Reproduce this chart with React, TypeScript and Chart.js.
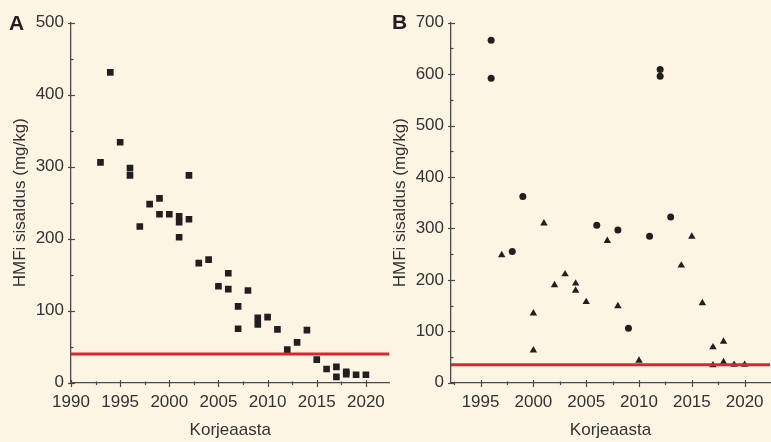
import React, { useEffect, useRef } from 'react';
import { Chart, registerables } from 'chart.js';

Chart.register(...registerables);

// ---------------- data ----------------
const yearsA = [1993, 1994, 1995, 1996, 1996, 1997, 1998, 1999, 1999, 2000, 2001, 2001, 2001, 2002, 2002, 2003, 2004, 2005, 2006, 2006, 2007, 2007, 2008, 2009, 2009, 2010, 2011, 2012, 2013, 2014, 2015, 2016, 2017, 2017, 2018, 2018, 2019, 2020];
const valuesA = [306, 431, 334, 298, 288, 217, 248, 256, 234, 234, 231, 223, 202, 288, 227, 166, 171, 134, 152, 130, 106, 75, 128, 90, 81, 91, 74, 46, 56, 73, 32, 19, 22, 8, 15, 12, 11, 11];

const circleYearsB = [1996, 1996, 1998, 1999, 2006, 2008, 2009, 2011, 2012, 2012, 2013];
const circleValuesB = [666, 592, 255, 362, 306, 297, 106, 285, 609, 596, 322];

const triangleYearsB = [1997, 2000, 2000, 2001, 2002, 2003, 2004, 2004, 2005, 2007, 2008, 2010, 2014, 2015, 2016, 2017, 2017, 2018, 2018, 2019, 2020];
const triangleValuesB = [248, 135, 63, 310, 190, 211, 193, 179, 157, 276, 149, 43, 228, 284, 155, 69, 34, 80, 40, 35, 35];

const limitA = 40;
const limitB = 35;

const xTicksA = [1990, 1995, 2000, 2005, 2010, 2015, 2020];
const xTicksB = [1995, 2000, 2005, 2010, 2015, 2020];
const yTicksA = [0, 100, 200, 300, 400, 500];
const yTicksB = [0, 100, 200, 300, 400, 500, 600, 700];

const xTitle = 'Korjeaasta';
const yTitle = 'HMFi sisaldus (mg/kg)';

// ---------------- styles ----------------
const FONT = "'Liberation Sans', Arial, sans-serif";
const BG = '#FDF5E4';
const TEXT = '#333333';
const AXIS = '#4a4a4a';
const MARK = '#231f20';
const RED = '#D7282F';

const tickPlugin = {
  id: 'customTicks',
  afterDraw(chart: any, _args: any, opts: any) {
    const ctx = chart.ctx;
    const xs = chart.scales.x;
    const ys = chart.scales.y;
    const area = chart.chartArea;
    ctx.save();
    ctx.strokeStyle = AXIS;
    ctx.lineWidth = 1.2;
    const line = (x1: number, y1: number, x2: number, y2: number) => {
      ctx.beginPath();
      ctx.moveTo(x1, y1);
      ctx.lineTo(x2, y2);
      ctx.stroke();
    };
    const b = Math.round(area.bottom) + 0.5;
    const l = Math.round(area.left) + 0.5;
    const start = Math.ceil(opts.xMin / 2.5) * 2.5;
    for (let v = start; v <= opts.xMax + 1e-6; v += 2.5) {
      const px = Math.round(xs.getPixelForValue(v)) + 0.5;
      const major = Math.abs(v % 5) < 1e-6;
      if (major) line(px, b - 3.5, px, b + 3.5);
      else line(px, b - 2, px, b + 1.5);
    }
    for (let v = 0; v <= opts.yMax + 1e-6; v += 50) {
      const py = Math.round(ys.getPixelForValue(v)) + 0.5;
      const major = v % 100 === 0;
      if (major) line(l - 3.5, py, l + 3.5, py);
      else line(l - 1.5, py, l + 2, py);
    }
    // panel letter
    ctx.fillStyle = MARK;
    ctx.font = `bold 21px ${FONT}`;
    ctx.textBaseline = 'alphabetic';
    ctx.textAlign = 'left';
    ctx.fillText(opts.letter, opts.letterX, opts.letterY);
    ctx.restore();
  },
};

function makeConfig(opts: {
  datasets: any[];
  xMin: number;
  xMax: number;
  yMax: number;
  xTicks: number[];
  yTicks: number[];
  yWidth: number;
  rightPad: number;
  yTitlePad: number;
  letter: string;
  letterX: number;
  letterY: number;
}): any {
  const tickFont = { family: FONT, size: 17 };
  return {
    type: 'scatter',
    data: { datasets: opts.datasets },
    plugins: [tickPlugin],
    options: {
      animation: false,
      responsive: false,
      devicePixelRatio: 1,
      layout: { autoPadding: false, padding: { top: 22.7, right: opts.rightPad, bottom: 0, left: 0 } },
      plugins: {
        legend: { display: false },
        tooltip: { enabled: false },
        customTicks: {
          xMin: opts.xMin,
          xMax: opts.xMax,
          yMax: opts.yMax,
          letter: opts.letter,
          letterX: opts.letterX,
          letterY: opts.letterY,
        },
      },
      scales: {
        x: {
          type: 'linear',
          min: opts.xMin,
          max: opts.xMax,
          afterBuildTicks: (s: any) => {
            s.ticks = opts.xTicks.map((v) => ({ value: v }));
          },
          afterFit: (s: any) => {
            s.height = 59.3;
            s.paddingLeft = 0;
            s.paddingRight = 0;
          },
          grid: { display: false, drawTicks: false },
          border: { display: true, color: AXIS, width: 1.3 },
          ticks: {
            padding: 9,
            color: TEXT,
            font: tickFont,
            autoSkip: false,
            maxRotation: 0,
            callback: (v: any) => String(v),
          },
          title: {
            display: true,
            text: xTitle,
            color: TEXT,
            font: tickFont,
            padding: { top: 0, bottom: 1 },
          },
        },
        y: {
          type: 'linear',
          min: 0,
          max: opts.yMax,
          afterBuildTicks: (s: any) => {
            s.ticks = opts.yTicks.map((v) => ({ value: v }));
          },
          afterFit: (s: any) => {
            s.width = opts.yWidth;
            s.paddingTop = 0;
            s.paddingBottom = 0;
          },
          grid: { display: false, drawTicks: false },
          border: { display: true, color: AXIS, width: 1.3 },
          ticks: {
            padding: 7,
            color: TEXT,
            font: tickFont,
            autoSkip: false,
            callback: (v: any) => String(v),
          },
          title: {
            display: true,
            text: yTitle,
            color: TEXT,
            font: tickFont,
            padding: { top: opts.yTitlePad, bottom: 0 },
          },
        },
      },
    },
  };
}

function limitLine(value: number, xMin: number, xMax: number) {
  return {
    type: 'line',
    data: [
      { x: xMin, y: value },
      { x: xMax, y: value },
    ],
    borderColor: RED,
    borderWidth: 3,
    pointRadius: 0,
    fill: false,
  };
}

function points(xs: number[], ys: number[]) {
  return xs.map((x, i) => ({ x, y: ys[i] }));
}

export default function App() {
  const refA = useRef<HTMLCanvasElement>(null);
  const refB = useRef<HTMLCanvasElement>(null);

  useEffect(() => {
    const xMinA = 1990;
    const xMaxA = 2022.4;
    const xMinB = 1992.2;
    const xMaxB = 2022.4;

    const chartA = new Chart(
      refA.current as HTMLCanvasElement,
      makeConfig({
        datasets: [
          limitLine(limitA, xMinA, xMaxA),
          {
            data: points(yearsA, valuesA),
            pointStyle: 'rect',
            pointRadius: 4.7,
            backgroundColor: MARK,
            borderColor: MARK,
            borderWidth: 0,
          },
        ],
        xMin: xMinA,
        xMax: xMaxA,
        yMax: 500,
        xTicks: xTicksA,
        yTicks: yTicksA,
        yWidth: 71,
        rightPad: 0.5,
        yTitlePad: 10,
        letter: 'A',
        letterX: 9,
        letterY: 30,
      })
    );

    const chartB = new Chart(
      refB.current as HTMLCanvasElement,
      makeConfig({
        datasets: [
          limitLine(limitB, xMinB, xMaxB),
          {
            data: points(circleYearsB, circleValuesB),
            pointStyle: 'circle',
            pointRadius: 3.5,
            backgroundColor: MARK,
            borderColor: MARK,
            borderWidth: 0,
          },
          {
            data: points(triangleYearsB, triangleValuesB),
            pointStyle: 'triangle',
            pointRadius: 4.3,
            backgroundColor: MARK,
            borderColor: MARK,
            borderWidth: 0,
          },
        ],
        xMin: xMinB,
        xMax: xMaxB,
        yMax: 700,
        xTicks: xTicksB,
        yTicks: yTicksB,
        yWidth: 61,
        rightPad: 1,
        yTitlePad: 0.5,
        letter: 'B',
        letterX: 2,
        letterY: 29.3,
      })
    );

    return () => {
      chartA.destroy();
      chartB.destroy();
    };
  }, []);

  return (
    <div
      style={{
        position: 'fixed',
        left: 0,
        top: 0,
        width: 771,
        height: 442,
        background: BG,
        overflow: 'hidden',
      }}
    >
      <canvas
        ref={refA}
        width={390}
        height={442}
        style={{ position: 'absolute', left: 0, top: 0, width: 390, height: 442, display: 'block' }}
      />
      <canvas
        ref={refB}
        width={381}
        height={442}
        style={{ position: 'absolute', left: 390, top: 0, width: 381, height: 442, display: 'block' }}
      />
    </div>
  );
}
